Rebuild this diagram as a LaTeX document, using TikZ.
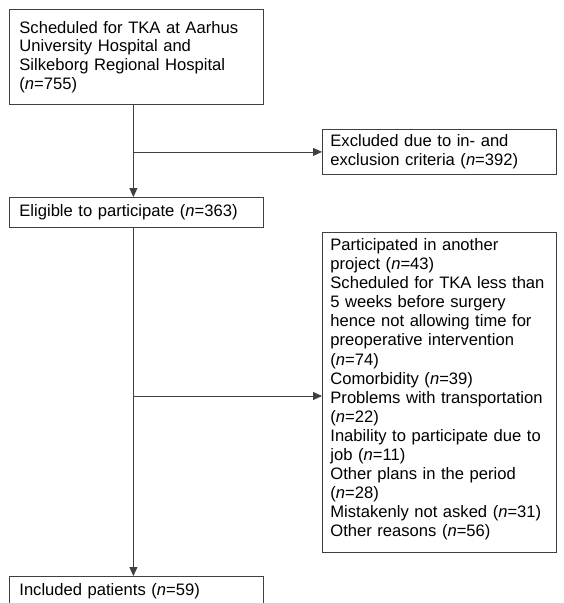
\documentclass[tikz,border=0pt]{standalone}
\usepackage{fontspec}
\setmainfont{Liberation Sans}
\usetikzlibrary{arrows.meta}
\begin{document}
\begin{tikzpicture}[x=1pt, y=-1pt,
    box/.style = {draw=black!75, line width=0.8pt, anchor=north west, align=left,
        inner ysep=0pt, font=\fontsize{16.6}{18.6}\selectfont},
    leftbox/.style = {box, inner xsep=10pt, text width=234pt},
    rightbox/.style = {box, inner xsep=8pt, text width=218pt},
    arr/.style = {draw=black!75, line width=0.8pt, -{Triangle[length=9pt,width=8pt]}}]
    \useasboundingbox (0,0) rectangle (563,603);
    % boxes
    \node[leftbox, minimum height=95pt] (sched) at (9,9)
        {Scheduled for TKA at Aarhus\\University Hospital and\\Silkeborg Regional Hospital\\(\textit{n}=755)};
    \node[rightbox, minimum height=45pt] (excl) at (322,129)
        {Excluded due to in- and\\exclusion criteria (\textit{n}=392)};
    \node[leftbox, minimum height=30pt] (elig) at (9,197)
        {Eligible to participate (\textit{n}=363)};
    \node[rightbox, font=\fontsize{16.6}{19.1}\selectfont, text height=18pt, text depth=302pt] (notpart) at (322,232)
        {Participated in another\\project (\textit{n}=43)\\Scheduled for TKA less than\\5 weeks before surgery\\hence not allowing time for\\preoperative intervention\\(\textit{n}=74)\\Comorbidity (\textit{n}=39)\\Problems with transportation\\(\textit{n}=22)\\Inability to participate due to\\job (\textit{n}=11)\\Other plans in the period\\(\textit{n}=28)\\Mistakenly not asked (\textit{n}=31)\\Other reasons (\textit{n}=56)};
    \node[leftbox, minimum height=30pt] (incl) at (9,576)
        {Included patients (\textit{n}=59)};
    % connectors
    \coordinate (split1) at ([xshift=-3pt]sched.south |- excl.west);
    \coordinate (split2) at ([xshift=-3pt]sched.south |- 0,396);
    \draw[arr] ([xshift=-3pt]sched.south) -- ([xshift=-3pt]elig.north);
    \draw[arr] (split1) -- (excl);
    \draw[arr] ([xshift=-3pt]elig.south) -- ([xshift=-3pt]incl.north);
    \draw[arr] (split2) -- (split2 -| notpart.west);
\end{tikzpicture}
\end{document}
